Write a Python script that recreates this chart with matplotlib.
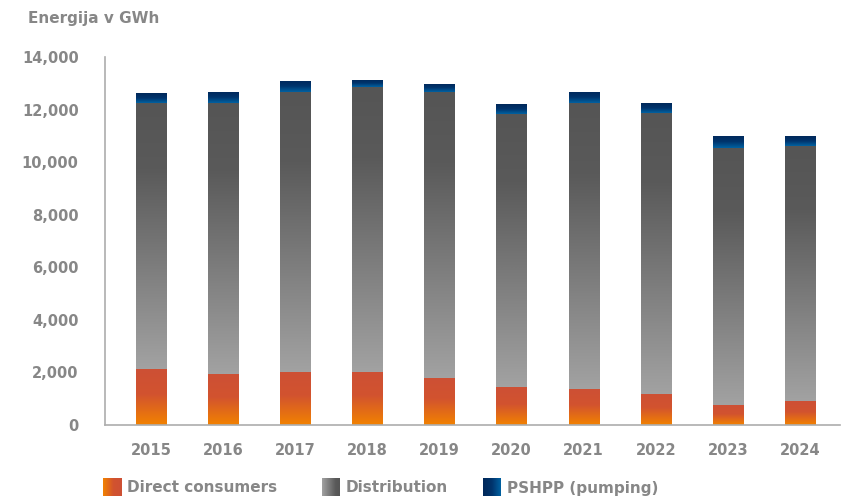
import matplotlib
matplotlib.use("Agg")
import matplotlib.pyplot as plt
import numpy as np
from matplotlib.colors import LinearSegmentedColormap

plt.rcParams['font.family'] = ['DejaVu Sans']

years = ['2015', '2016', '2017', '2018', '2019', '2020', '2021', '2022', '2023', '2024']
direct = [2130, 1940, 2020, 2020, 1790, 1440, 1370, 1180, 760, 910]
distribution = [10110, 10300, 10640, 10830, 10870, 10380, 10870, 10680, 9770, 9700]
pumping = [380, 420, 420, 270, 310, 380, 420, 380, 460, 380]

grey_txt = '#878787'

# vertical gradients, bottom -> top
cm_direct = LinearSegmentedColormap.from_list(
    'direct', [(0, '#F28200'), (0.55, '#D2532F'), (1, '#CD5035')])
cm_dist = LinearSegmentedColormap.from_list(
    'dist', [(0, '#A2A2A2'), (0.75, '#5A5A5A'), (1, '#555555')])
cm_pump = LinearSegmentedColormap.from_list(
    'pump', [(0, '#0062A2'), (0.5, '#00346C'), (1, '#00285A')])

grad = np.linspace(0, 1, 256).reshape(-1, 1)


def gradient_bars(ax, bars, cmap):
    for bar in bars:
        x, y = bar.get_xy()
        w, h = bar.get_width(), bar.get_height()
        bar.set_facecolor('none')
        bar.set_edgecolor('none')
        im = ax.imshow(grad, cmap=cmap, origin='lower', aspect='auto',
                       extent=(x, x + w, y, y + h), zorder=2,
                       interpolation='bilinear')
        im.set_clip_path(bar)


fig = plt.figure(figsize=(8.55, 5.01), dpi=100)
ax = fig.add_axes([105 / 855, 1 - 425 / 501, (840 - 105) / 855, (425 - 57) / 501])

x = np.arange(len(years))
w = 0.42
d = np.array(direct)
s = np.array(distribution)
p = np.array(pumping)

b1 = ax.bar(x, d, w)
b2 = ax.bar(x, s, w, bottom=d)
b3 = ax.bar(x, p, w, bottom=d + s)
gradient_bars(ax, b1, cm_direct)
gradient_bars(ax, b2, cm_dist)
gradient_bars(ax, b3, cm_pump)

ax.set_xlim(-0.638, 9.555)
ax.set_ylim(0, 14000)
ax.set_xticks(x)
ax.set_xticklabels(years)
ax.set_yticks(np.arange(0, 14001, 2000))
ax.set_yticklabels([f'{v:,}' for v in range(0, 14001, 2000)])
ax.tick_params(axis='both', length=0, labelsize=10.5, labelcolor=grey_txt)
ax.tick_params(axis='y', pad=19)
ax.tick_params(axis='x', pad=13)
for lbl in ax.get_xticklabels() + ax.get_yticklabels():
    lbl.set_fontweight('bold')

for side in ['top', 'right']:
    ax.spines[side].set_visible(False)
for side in ['left', 'bottom']:
    ax.spines[side].set_color('#adadad')
    ax.spines[side].set_linewidth(1.2)

fig.text(28 / 855, 1 - 18 / 501, 'Energija v GWh', fontsize=11, fontweight='bold',
         color=grey_txt, va='center', ha='left')

# legend drawn by hand so the swatches keep their gradients
hgrad = np.linspace(0, 1, 256).reshape(1, -1)
legend_items = [('Direct consumers', cm_direct, 103), ('Distribution', cm_dist, 322),
                ('PSHPP (pumping)', cm_pump.reversed(), 483)]
for label, cmap, px in legend_items:
    sw = fig.add_axes([px / 855, 1 - 496 / 501, 18 / 855, 18 / 501])
    sw.imshow(hgrad, cmap=cmap, aspect='auto', interpolation='bilinear')
    sw.axis('off')
    fig.text((px + 24) / 855, 1 - 488 / 501, label, fontsize=11, fontweight='bold',
             color=grey_txt, va='center', ha='left')

fig.savefig('out.png', dpi=100)
